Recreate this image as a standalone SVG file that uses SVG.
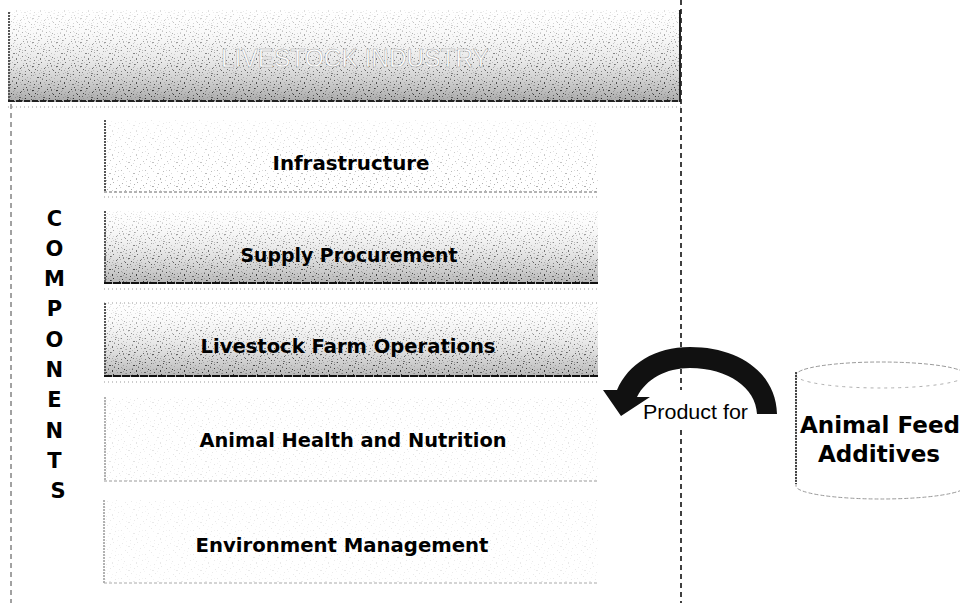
<svg xmlns="http://www.w3.org/2000/svg" width="960" height="603" viewBox="0 0 960 603">
<style>
.lbl{font-family:"DejaVu Sans",Verdana,sans-serif;font-weight:bold;font-size:19.5px;fill:#000;text-anchor:middle}
.vert{font-family:"DejaVu Sans",Verdana,sans-serif;font-weight:bold;font-size:21px;fill:#000;text-anchor:middle}
.cyl{font-family:"DejaVu Sans",Verdana,sans-serif;font-weight:bold;font-size:22.5px;fill:#000;text-anchor:middle}
.hdr{font-family:"Liberation Sans",Arial,sans-serif;font-size:26px;fill:#ffffff;stroke:#a0a0a0;stroke-width:0.5;text-anchor:middle}
.edge{font-family:"Liberation Sans",Arial,sans-serif;font-size:20px;fill:#000}
.lborder{stroke:#555;stroke-width:2;stroke-dasharray:2 1}
.lborderlt{stroke:#999;stroke-width:1.5;stroke-dasharray:2 1}
.dot{stroke:#999;stroke-width:1;stroke-dasharray:1 3;fill:none}
.frame-l{stroke:#444;stroke-width:1;stroke-dasharray:5 4;fill:none}
.frame-r{stroke:#111;stroke-width:1.6;stroke-dasharray:5 4;fill:none}
</style>
<defs>
<pattern id="stip" width="24" height="24" patternUnits="userSpaceOnUse">
<path fill="#2a2a2a" d="M1 2h1v1h-1z M7 0h1v1h-1z M13 5h2v1h-2z M19 3h1v1h-1z M4 9h1v1h-1z M10 12h1v1h-1z M16 10h1v2h-1z M22 8h1v1h-1z M2 15h1v1h-1z M8 18h2v1h-2z M14 16h1v1h-1z M20 20h1v1h-1z M5 22h1v1h-1z M11 21h1v1h-1z M17 14h1v1h-1z M23 17h1v1h-1z"/>
<path fill="#8c8c8c" d="M3 5h1v1h-1z M9 3h1v1h-1z M15 1h1v1h-1z M21 12h1v1h-1z M6 13h1v1h-1z M12 8h1v1h-1z M18 6h1v1h-1z M0 19h1v1h-1z M6 17h1v1h-1z M13 19h1v1h-1z M19 23h1v1h-1z M3 11h1v1h-1z M10 15h1v1h-1z M16 22h1v1h-1z M22 2h1v1h-1z M1 7h1v1h-1z"/>
</pattern>
<pattern id="stipB" href="#stip" patternTransform="translate(11,7)"/>
<linearGradient id="gHdr" x1="0" y1="0" x2="0" y2="1">
<stop offset="0" stop-color="#ffffff"/><stop offset="0.55" stop-color="#dcdcdc"/><stop offset="1" stop-color="#a9a9a9"/>
</linearGradient>
<linearGradient id="gDark" x1="0" y1="0" x2="0" y2="1">
<stop offset="0" stop-color="#ffffff"/><stop offset="0.5" stop-color="#dedede"/><stop offset="1" stop-color="#b5b5b5"/>
</linearGradient>
<linearGradient id="gFade" x1="0" y1="0" x2="0" y2="1">
<stop offset="0" stop-color="#fff" stop-opacity="0.85"/><stop offset="0.55" stop-color="#fff" stop-opacity="0.35"/><stop offset="1" stop-color="#fff" stop-opacity="0"/>
</linearGradient>
<linearGradient id="gLight" x1="0" y1="0" x2="0" y2="1">
<stop offset="0" stop-color="#fff" stop-opacity="0.9"/><stop offset="1" stop-color="#fff" stop-opacity="0.6"/>
</linearGradient>
</defs>

<rect width="960" height="603" fill="#ffffff"/>

<g id="frame">
<line class="frame-l" x1="11" y1="104" x2="11" y2="603"/>
<line class="frame-r" x1="681" y1="0" x2="681" y2="390"/>
<line class="frame-r" x1="681" y1="430" x2="681" y2="603"/>
</g>

<g id="n-header">
<rect x="8" y="10" width="673" height="92" fill="url(#gHdr)"/>
<rect x="8" y="10" width="673" height="92" fill="url(#stip)"/>
<rect x="8" y="10" width="673" height="92" fill="url(#stipB)" opacity="0.7"/>
<rect x="8" y="10" width="673" height="92" fill="url(#gFade)"/>
<line x1="9" y1="12" x2="9" y2="102" class="lborder"/>
<line x1="8" y1="101" x2="681" y2="101" stroke="#222" stroke-width="2" stroke-dasharray="6 2"/>
<line x1="8" y1="107" x2="681" y2="107" class="dot"/>
<line x1="680" y1="10" x2="680" y2="102" stroke="#222" stroke-width="2"/>
<text class="hdr" x="355" y="67" textLength="268" lengthAdjust="spacingAndGlyphs">LIVESTOCK INDUSTRY</text>
</g>

<g id="n-components">
<text class="vert">
<tspan x="58" y="226">C</tspan>
<tspan x="58" y="256">O</tspan>
<tspan x="58" y="286">M</tspan>
<tspan x="58" y="316">P</tspan>
<tspan x="58" y="347">O</tspan>
<tspan x="58" y="377">N</tspan>
<tspan x="58" y="407">E</tspan>
<tspan x="58" y="438">N</tspan>
<tspan x="58" y="468">T</tspan>
<tspan x="58" y="498">S</tspan>
</text>
</g>

<g id="n-infrastructure">
<rect x="104" y="120" width="494" height="72" fill="url(#stip)"/>
<rect x="104" y="120" width="494" height="72" fill="url(#gLight)"/>
<line x1="105" y1="120" x2="105" y2="192" class="lborder"/>
<line x1="104" y1="192" x2="598" y2="192" stroke="#666" stroke-width="1" stroke-dasharray="3 2"/>
<line x1="104" y1="197" x2="598" y2="197" class="dot"/>
<text class="lbl" x="351" y="170" textLength="157" lengthAdjust="spacingAndGlyphs">Infrastructure</text>
</g>

<g id="n-supply">
<rect x="104" y="211" width="494" height="73" fill="url(#gDark)"/>
<rect x="104" y="211" width="494" height="73" fill="url(#stip)"/>
<rect x="104" y="211" width="494" height="73" fill="url(#stipB)" opacity="0.7"/>
<rect x="104" y="211" width="494" height="73" fill="url(#gFade)"/>
<line x1="105" y1="211" x2="105" y2="284" class="lborder"/>
<line x1="104" y1="283" x2="598" y2="283" stroke="#111" stroke-width="1.8" stroke-dasharray="8 1"/>
<line x1="104" y1="289" x2="598" y2="289" class="dot"/>
<text class="lbl" x="349" y="262" textLength="217" lengthAdjust="spacingAndGlyphs">Supply Procurement</text>
</g>

<g id="n-livestock">
<rect x="104" y="303" width="494" height="74" fill="url(#gDark)"/>
<rect x="104" y="303" width="494" height="74" fill="url(#stip)"/>
<rect x="104" y="303" width="494" height="74" fill="url(#stipB)" opacity="0.7"/>
<rect x="104" y="303" width="494" height="74" fill="url(#gFade)"/>
<line x1="104" y1="303" x2="598" y2="303" class="dot"/>
<line x1="105" y1="303" x2="105" y2="377" class="lborder"/>
<line x1="104" y1="376" x2="598" y2="376" stroke="#111" stroke-width="1.8" stroke-dasharray="8 1"/>
<line x1="104" y1="382" x2="598" y2="382" class="dot"/>
<text class="lbl" x="348" y="353" textLength="295" lengthAdjust="spacingAndGlyphs">Livestock Farm Operations</text>
</g>

<g id="n-animal-health">
<rect x="104" y="397" width="494" height="84" fill="url(#stip)" opacity="0.12"/>
<line x1="105" y1="397" x2="105" y2="481" class="lborderlt"/>
<line x1="104" y1="481" x2="598" y2="481" stroke="#999" stroke-width="1" stroke-dasharray="3 2"/>
<text class="lbl" x="353" y="447" textLength="307" lengthAdjust="spacingAndGlyphs">Animal Health and Nutrition</text>
</g>

<g id="n-environment">
<rect x="104" y="500" width="494" height="83" fill="url(#stip)" opacity="0.1"/>
<line x1="104" y1="500" x2="104" y2="583" class="lborderlt"/>
<line x1="104" y1="583" x2="598" y2="583" stroke="#aaa" stroke-width="1" stroke-dasharray="3 2"/>
<text class="lbl" x="342" y="552" textLength="293" lengthAdjust="spacingAndGlyphs">Environment Management</text>
</g>

<g id="n-feed-additives">
<path d="M796 375 L796 486 A85 13 0 0 0 966 486 L966 375 A85 13 0 0 0 796 375 Z" fill="#ffffff" stroke="#9a9a9a" stroke-width="1" stroke-dasharray="4 2"/>
<path d="M796 375 A85 13 0 0 0 966 375" fill="none" stroke="#b0b0b0" stroke-width="1" stroke-dasharray="3 4"/>
<line x1="796" y1="372" x2="796" y2="484" stroke="#222" stroke-width="1.6" stroke-dasharray="2 1"/>
<text class="cyl" x="880" y="433" textLength="160" lengthAdjust="spacingAndGlyphs">Animal Feed</text>
<text class="cyl" x="879" y="462" textLength="122" lengthAdjust="spacingAndGlyphs">Additives</text>
</g>

<g id="connectors">
<path id="e-product-for" d="M777,414 C776,372 738,347 690,347 C655,347 628,364 617,390 L603,390 L621,416 L650,397 L637,397 C646,379 666,368 690,368 C728,368 756,388 757,414 Z" fill="#111111"/>
<text class="edge" x="643" y="419" textLength="105" lengthAdjust="spacingAndGlyphs">Product for</text>
</g>
</svg>
